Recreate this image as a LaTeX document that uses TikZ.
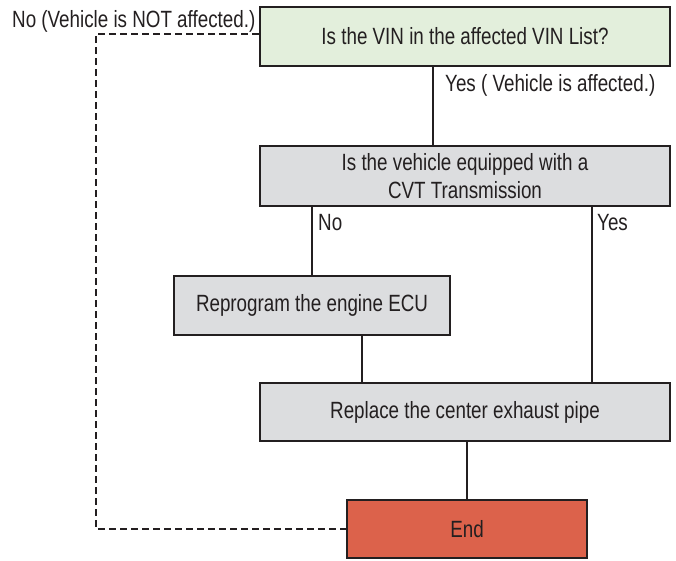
\documentclass[tikz,border=0pt]{standalone}
\usepackage{fontspec}
\setmainfont[FakeStretch=0.8]{Liberation Sans}
\definecolor{bord}{HTML}{231F20}
\definecolor{gfill}{HTML}{E3EFDC}
\definecolor{pfill}{HTML}{DCDDDF}
\definecolor{rfill}{HTML}{DC624B}
\begin{document}
\begin{tikzpicture}[x=1pt,y=-1pt,
  box/.style={draw=bord,line width=2.6pt,inner sep=0pt,font=\fontsize{23.5}{28}\selectfont,text=bord,align=center},
  conn/.style={draw=bord,line width=2.4pt},
  lbl/.style={font=\fontsize{23.5}{28}\selectfont,text=bord,inner sep=0pt}]
\useasboundingbox (0,0) rectangle (676,561);
\node[box,fill=gfill,minimum width=410pt,minimum height=59pt] (vin) at (465,36.5) {Is the VIN in the affected VIN List?};
\node[box,fill=pfill,minimum width=410pt,minimum height=60pt] (cvt) at (465,176) {Is the vehicle equipped with a\\CVT Transmission};
\node[box,fill=pfill,minimum width=276pt,minimum height=59pt] (ecu) at (312,305.5) {Reprogram the engine ECU};
\node[box,fill=pfill,minimum width=410pt,minimum height=58pt] (pipe) at (465,412) {Replace the center exhaust pipe};
\node[box,fill=rfill,minimum width=240pt,minimum height=58pt] (end) at (467,529) {End};
\draw[conn] (vin.south -| 433,0) -- (cvt.north -| 433,0);
\draw[conn] (cvt.south -| 312,0) -- (ecu.north -| 312,0);
\draw[conn] (cvt.south -| 592,0) -- (pipe.north -| 592,0);
\draw[conn] (ecu.south -| 362,0) -- (pipe.north -| 362,0);
\draw[conn] (pipe.south -| 467,0) -- (end.north -| 467,0);
\coordinate (c1) at (96,34);
\coordinate (c2) at (96,529);
\draw[conn,dashed,dash pattern=on 7pt off 4pt] (vin.west |- 0,34) -- (c1) -- (c2) -- (end.west);
\node[lbl,anchor=west] (lno) at (12,21) {No (Vehicle is NOT affected.)};
\node[lbl,anchor=west] (lyes) at (445,85) {Yes ( Vehicle is affected.)};
\node[lbl,anchor=west] (lno2) at (318,223) {No};
\node[lbl,anchor=west] (lyes2) at (597,223) {Yes};
\end{tikzpicture}
\end{document}
